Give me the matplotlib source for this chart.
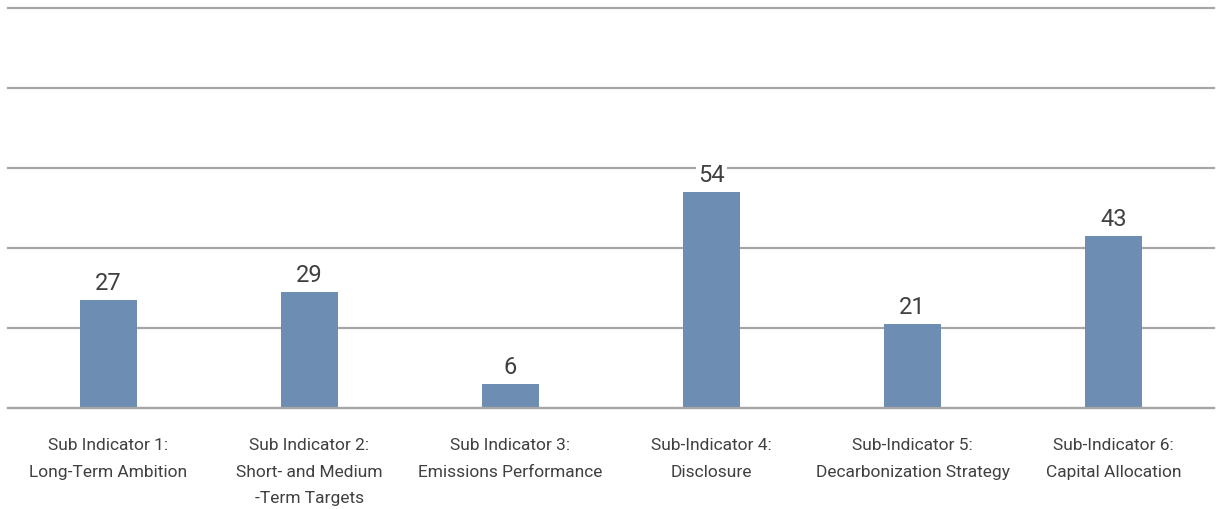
import matplotlib.pyplot as plt
import numpy as np

categories = [
    "Sub Indicator 1:\nLong-Term Ambition",
    "Sub Indicator 2:\nShort- and Medium\n-Term Targets",
    "Sub Indicator 3:\nEmissions Performance",
    "Sub-Indicator 4:\nDisclosure",
    "Sub-Indicator 5:\nDecarbonization Strategy",
    "Sub-Indicator 6:\nCapital Allocation",
]
scores = [27, 29, 6, 54, 21, 43]

bar_color = "#6e8db2"
grid_color = "#a6a6a6"
text_color = "#404040"

plt.rcParams["font.family"] = ["Roboto", "DejaVu Sans"]

fig = plt.figure(figsize=(12.16, 5.10), dpi=100)
ax = fig.add_axes([8 / 1216, 101 / 510, 1206 / 1216, 400 / 510])

x = np.arange(len(categories))
bars = ax.bar(x, scores, width=0.285, color=bar_color, zorder=3)

# value labels sit on a white box so the gridlines break around them
for bar, val in zip(bars, scores):
    ax.text(bar.get_x() + bar.get_width() / 2, val + 4.3, str(val),
            ha="center", va="center", fontsize=17, color=text_color, zorder=4,
            bbox=dict(facecolor="white", edgecolor="none", pad=1.5))

ax.set_xlim(-0.5, len(categories) - 0.5)
ax.set_ylim(0, 100)
ax.set_yticks(np.arange(0, 101, 20))
ax.yaxis.grid(True, color=grid_color, linewidth=1.6, zorder=0)
for gl in ax.get_ygridlines():
    gl.set_clip_on(False)
ax.set_yticklabels([])
ax.tick_params(axis="y", length=0)

ax.set_xticks(x)
ax.set_xticklabels(categories, fontsize=12.5, color=text_color, linespacing=1.95,
                   va="top")
ax.tick_params(axis="x", length=0, pad=21)

for side in ["top", "right", "left"]:
    ax.spines[side].set_visible(False)
ax.spines["bottom"].set_color(grid_color)
ax.spines["bottom"].set_linewidth(1.6)
ax.spines["bottom"].set_zorder(4)

fig.savefig("out.png", dpi=100)
